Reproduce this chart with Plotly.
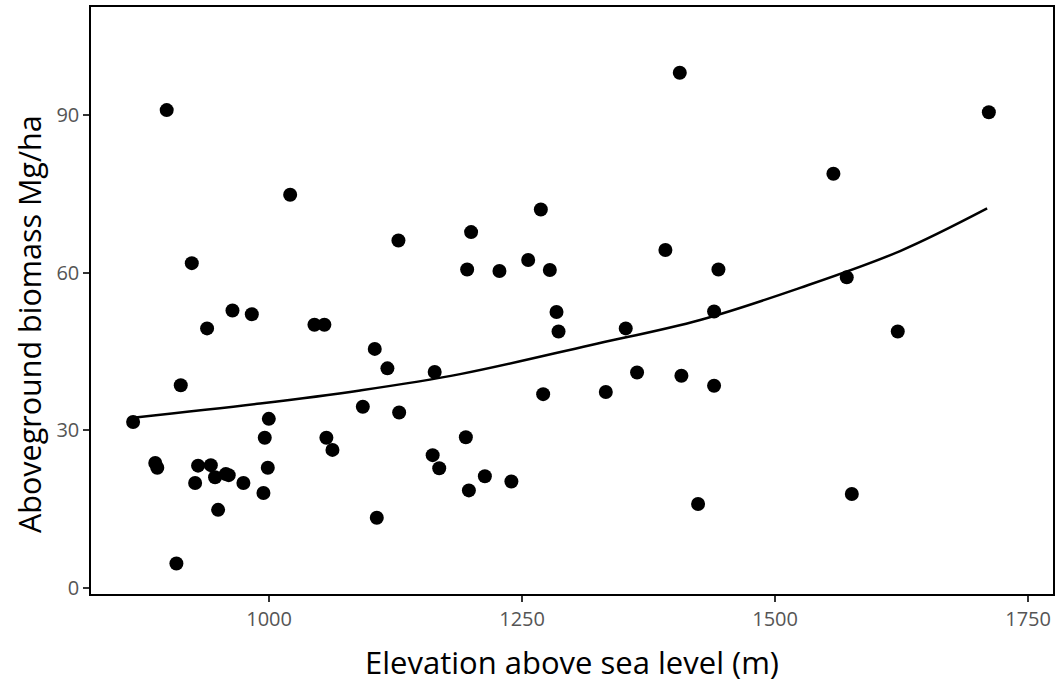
import plotly.graph_objects as go

elevation = [865.6, 887.5, 889.5, 898.8, 908.4, 912.7, 923.6, 926.9, 929.8, 938.7,
             942.4, 946.6, 949.6, 957.2, 960.1, 963.8, 974.6, 982.9, 994.4, 995.7,
             998.7, 999.7, 1020.8, 1044.8, 1054.6, 1056.6, 1062.6, 1092.6, 1104.4, 1106.4,
             1116.9, 1127.8, 1128.5, 1161.6, 1163.6, 1168.1, 1194.4, 1195.7, 1197.4, 1199.6,
             1213.2, 1227.6, 1239.4, 1256.0, 1268.5, 1270.8, 1277.4, 1284.0, 1286.0, 1332.7,
             1352.4, 1363.6, 1391.6, 1405.8, 1407.4, 1423.9, 1439.7, 1439.7, 1444.0, 1557.6,
             1570.8, 1575.8, 1621.2, 1711.2]
biomass = [31.6, 23.8, 22.9, 90.9, 4.7, 38.6, 61.8, 20.0, 23.3, 49.4,
           23.4, 21.1, 14.9, 21.7, 21.5, 52.8, 20.0, 52.1, 18.1, 28.6,
           22.9, 32.2, 74.8, 50.1, 50.1, 28.6, 26.3, 34.5, 45.5, 13.4,
           41.8, 66.1, 33.4, 25.3, 41.1, 22.8, 28.7, 60.6, 18.6, 67.7,
           21.3, 60.3, 20.3, 62.4, 72.0, 36.9, 60.5, 52.5, 48.8, 37.3,
           49.4, 41.0, 64.3, 98.0, 40.4, 16.0, 52.6, 38.5, 60.6, 78.8,
           59.1, 17.9, 48.8, 90.5]

fit_x = [865.6, 991.1, 1089.9, 1188.7, 1317.2, 1425.9, 1524.7, 1623.5, 1709.5]
fit_y = [32.4, 35.1, 37.6, 40.7, 46.2, 51.0, 57.1, 64.1, 72.2]

x_ticks = [1000, 1250, 1500, 1750]
y_ticks = [0, 30, 60, 90]

FONT = "Open Sans"

fig = go.Figure()
fig.add_trace(go.Scatter(x=fit_x, y=fit_y, mode="lines",
                         line=dict(color="black", width=2.5, shape="spline", smoothing=1.0),
                         showlegend=False, hoverinfo="skip"))
fig.add_trace(go.Scatter(x=elevation, y=biomass, mode="markers",
                         marker=dict(color="black", size=14, line=dict(width=0)),
                         showlegend=False))

axis_common = dict(
    showline=True, linecolor="black", linewidth=1.5, mirror=True,
    ticks="outside", ticklen=6, tickwidth=1.5, tickcolor="#333333",
    showgrid=False, zeroline=False, automargin=False,
    tickfont=dict(family=FONT, size=20, color="#555555"),
)

fig.update_layout(
    width=1057, height=689,
    margin=dict(l=91, r=4, t=7, b=95),
    plot_bgcolor="white", paper_bgcolor="white",
    xaxis=dict(range=[824, 1774.6], tickvals=x_ticks,
               title=dict(text="Elevation above sea level (m)",
                          font=dict(family=FONT, size=31, color="black"), standoff=22),
               **axis_common),
    yaxis=dict(range=[-1.1, 110.5], tickvals=y_ticks, **axis_common),
    annotations=[dict(text="Aboveground biomass Mg/ha", textangle=-90,
                      xref="paper", yref="paper", x=0, y=0.46,
                      xanchor="center", yanchor="middle", xshift=-62,
                      showarrow=False,
                      font=dict(family=FONT, size=30.5, color="black"))],
)

fig.write_html("out.html",
               config={"displayModeBar": False},
               post_script="document.body.style.margin='0';document.body.style.overflow='hidden';")
